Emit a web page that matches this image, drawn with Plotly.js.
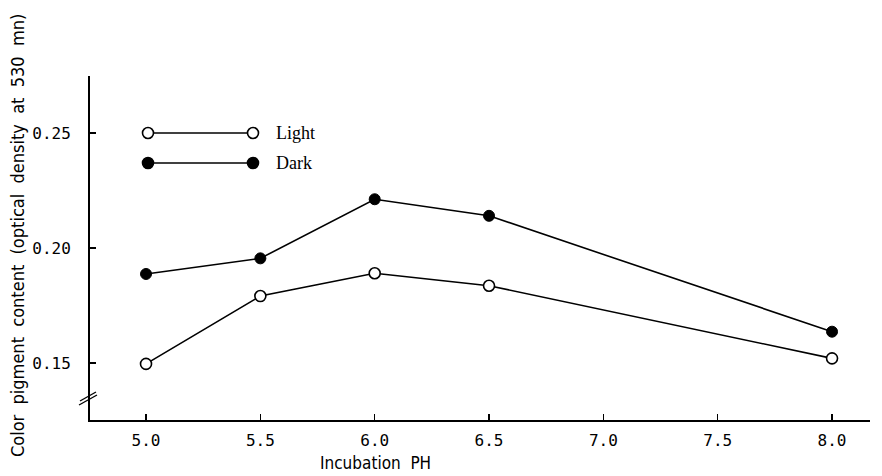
<!DOCTYPE html>
<html>
<head>
<meta charset="utf-8">
<script src="https://cdn.plot.ly/plotly-3.0.1.min.js"></script>
<style>html,body{margin:0;padding:0;background:#fff;}#chart{width:882px;height:476px;}</style>
</head>
<body>
<div id="chart"></div>
<script>
const ph = [5.0, 5.5, 6.0, 6.5, 8.0];
const lightValues = [0.1496, 0.1791, 0.1890, 0.1836, 0.1520];
const darkValues = [0.1887, 0.1955, 0.2212, 0.2140, 0.1636];
const xTicks = [5.0, 5.5, 6.0, 6.5, 7.0, 7.5, 8.0];
const xTickText = ['5.0', '5.5', '6.0', '6.5', '7.0', '7.5', '8.0'];
const yTicks = [0.15, 0.20, 0.25];
const yTickText = ['0.15', '0.20', '0.25'];
const seriesNames = ['Light', 'Dark'];

const traces = [
  {x: ph, y: darkValues, mode: 'lines+markers', name: seriesNames[1],
   line: {color: '#000', width: 1.6},
   marker: {symbol: 'circle', size: 11, color: '#000', line: {color: '#000', width: 1}}},
  {x: ph, y: lightValues, mode: 'lines+markers', name: seriesNames[0],
   line: {color: '#000', width: 1.6},
   marker: {symbol: 'circle', size: 11, color: '#fff', line: {color: '#000', width: 1.6}}}
];

const W = 780, H = 344, L = 90, T = 76;
const px = v => (v - L) / W;
const py = v => (T + H - v) / H;

const shapes = [];
const annotations = [];
// legend
[[133, '#fff', seriesNames[0]], [163, '#000', seriesNames[1]]].forEach(([yy, fill, name]) => {
  shapes.push({type: 'line', xref: 'paper', yref: 'paper', x0: px(148), x1: px(253), y0: py(yy), y1: py(yy), line: {color: '#000', width: 1.6}});
  [148, 253].forEach(cx => {
    shapes.push({type: 'circle', xref: 'paper', yref: 'paper', xsizemode: 'pixel', ysizemode: 'pixel',
      xanchor: px(cx), yanchor: py(yy), x0: -5.5, x1: 5.5, y0: -5.5, y1: 5.5,
      fillcolor: fill, line: {color: '#000', width: 1.6}});
  });
  annotations.push({xref: 'paper', yref: 'paper', x: px(274), y: py(yy), xanchor: 'left', yanchor: 'middle',
    text: name, showarrow: false, font: {family: 'Liberation Serif, serif', size: 18, color: '#000'}});
});
// axis break
shapes.push({type: 'line', xref: 'paper', yref: 'paper', x0: px(79), x1: px(97), y0: py(405), y1: py(395), line: {color: '#000', width: 1.4}});
shapes.push({type: 'line', xref: 'paper', yref: 'paper', x0: px(80), x1: px(96), y0: py(401), y1: py(392), line: {color: '#000', width: 1.4}});
// titles
annotations.push({xref: 'paper', yref: 'paper', x: px(375), y: py(463), xanchor: 'center', yanchor: 'middle',
  text: 'Incubation&nbsp;&nbsp;PH', showarrow: false, font: {family: 'DejaVu Sans Condensed, DejaVu Sans, sans-serif', size: 17, color: '#000'}});
annotations.push({xref: 'paper', yref: 'paper', x: px(17), y: py(236), xanchor: 'center', yanchor: 'middle', textangle: -90,
  text: 'Color&nbsp;&nbsp;pigment&nbsp;&nbsp;content&nbsp;&nbsp;(optical&nbsp;&nbsp;density&nbsp;&nbsp;at&nbsp;&nbsp;530&nbsp;&nbsp;mn)', showarrow: false,
  font: {family: 'DejaVu Sans Condensed, DejaVu Sans, sans-serif', size: 18, color: '#000'}});

const layout = {
  width: 882, height: 476,
  margin: {l: L, r: 882 - L - W, t: T, b: 476 - T - H},
  paper_bgcolor: '#fff', plot_bgcolor: '#fff',
  showlegend: false,
  xaxis: {range: [4.755, 8.166], tickvals: xTicks, ticktext: xTickText, ticks: 'inside', ticklen: 6, tickwidth: 1.5,
    tickcolor: '#000', showline: true, linecolor: '#000', linewidth: 2, showgrid: false, zeroline: false,
    ticklabelstandoff: 5,
    tickfont: {family: 'DejaVu Sans Mono, monospace', size: 16, color: '#000'}},
  yaxis: {range: [0.1252, 0.2748], tickvals: yTicks, ticktext: yTickText, ticks: 'inside', ticklen: 6, tickwidth: 1.5,
    tickcolor: '#000', showline: true, linecolor: '#000', linewidth: 2, showgrid: false, zeroline: false,
    ticklabelstandoff: 14,
    tickfont: {family: 'DejaVu Sans Mono, monospace', size: 16, color: '#000'}},
  shapes: shapes,
  annotations: annotations
};

Plotly.newPlot('chart', traces, layout, {displayModeBar: false, staticPlot: true});
</script>
</body>
</html>
